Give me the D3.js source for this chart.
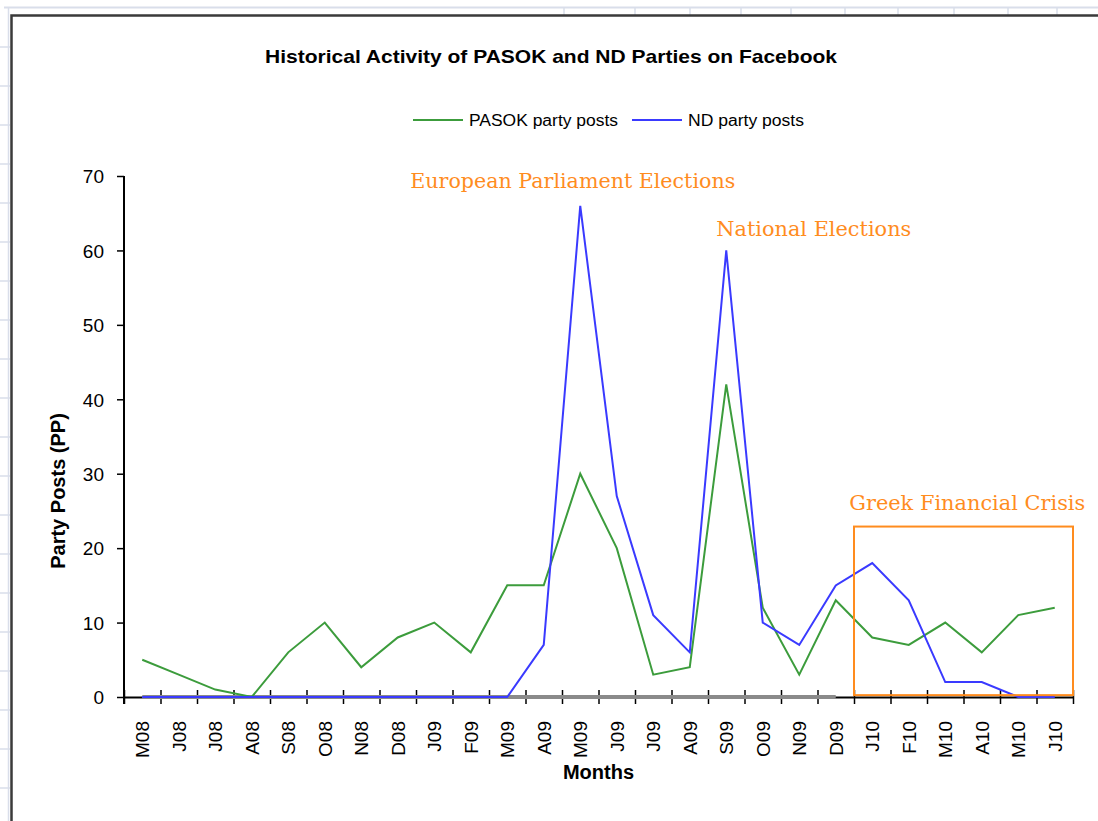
<!DOCTYPE html>
<html>
<head>
<meta charset="utf-8">
<script src="https://cdnjs.cloudflare.com/ajax/libs/d3/7.8.5/d3.min.js"></script>
<style>
  html, body { margin: 0; padding: 0; background: #fff; }
  svg { display: block; }
  .axis text { font-family: "Liberation Sans", Arial, sans-serif; fill: #000; }
  .axis path, .axis line { stroke: #000; }
</style>
</head>
<body>
<div id="chart"></div>
<script>

/**************************************************
 * Data                                           *
 **************************************************/

var months = ['M08', 'J08', 'J08', 'A08', 'S08', 'O08', 'N08', 'D08', 'J09', 'F09', 'M09', 'A09', 'M09',
  'J09', 'J09', 'A09', 'S09', 'O09', 'N09', 'D09', 'J10', 'F10', 'M10', 'A10', 'M10', 'J10'];

var pasokPosts = [5, 3, 1, 0, 6, 10, 4, 8, 10, 6, 15, 15, 30, 20, 3, 4, 42, 12, 3, 13, 8, 7, 10, 6, 11, 12];
var ndPosts = [0, 0, 0, 0, 0, 0, 0, 0, 0, 0, 0, 7, 66, 27, 11, 6, 60, 10, 7, 15, 18, 13, 2, 2, 0, 0];
// grey series lying on the baseline up to D09 (not in the legend)
var baseSeries = [0, 0, 0, 0, 0, 0, 0, 0, 0, 0, 0, 0, 0, 0, 0, 0, 0, 0, 0, 0, null, null, null, null, null, null];

var yTicks = [0, 10, 20, 30, 40, 50, 60, 70];

var seriesNames = ['PASOK party posts', 'ND party posts'];

// annotations: [text, month index, value at baseline, x shift, text width]
var notes = [
  ['European Parliament Elections', 12, 68.4, -170, 325],
  ['National Elections', 16, 61.9, -10, 195],
  ['Greek Financial Crisis', 20, 25.1, -23, 236]
];
// crisis box: from month 20 to the end, value range
var crisisStart = 20,
  crisisTop = 22.9,
  crisisBottom = 0.25;

/**************************************************
 * Global Variables                               *
 **************************************************/

var width = 1098,
  height = 821;

var plot = { left: 124, right: 1073, top: 176, bottom: 697 };

var colors = {
  pasok: '#3c9c3c',
  nd: '#3a3aff',
  base: '#8a8a8a',
  note: '#ff8c1e',
  grid: '#d9deea',
  frame: '#3a3a3a'
};

var svg = d3.select('#chart').append('svg').attr('width', width).attr('height', height);

var x = d3.scaleBand().domain(d3.range(months.length)).range([plot.left, plot.right]).padding(0);
var xEdge = d3.scaleLinear().domain([0, months.length]).range([plot.left, plot.right]);
var y = d3.scaleLinear().domain([0, 70]).range([plot.bottom, plot.top]);

function cx(i) {
  return x(i) + x.bandwidth() / 2;
}

/**************************************************
 * Spreadsheet background                         *
 **************************************************/

function drawSheet() {
  var g = svg.append('g').attr('id', 'sheet');
  var colLines = [564, 635, 690, 741, 791, 845, 898, 954, 1008, 1057];

  g.append('line').attr('x1', 4).attr('x2', width).attr('y1', 7.5).attr('y2', 7.5)
    .attr('stroke', colors.grid).attr('stroke-width', 2);
  g.append('line').attr('x1', 8.5).attr('x2', 8.5).attr('y1', 7).attr('y2', height)
    .attr('stroke', colors.grid).attr('stroke-width', 1.5);

  colLines.forEach(function(cx0) {
    g.append('line').attr('x1', cx0).attr('x2', cx0).attr('y1', 7).attr('y2', 15)
      .attr('stroke', colors.grid).attr('stroke-width', 1.5);
  });
  for (var ry = 47; ry < height; ry += 39) {
    g.append('line').attr('x1', 0).attr('x2', 10).attr('y1', ry).attr('y2', ry)
      .attr('stroke', colors.grid).attr('stroke-width', 1.5);
  }

  // chart frame
  g.append('path')
    .attr('d', 'M11.5,' + height + 'V15.5H' + width)
    .attr('fill', 'none').attr('stroke', colors.frame).attr('stroke-width', 2.5);
}

/**************************************************
 * Axes                                           *
 **************************************************/

function drawAxes() {
  var yAxis = d3.axisLeft(y).tickValues(yTicks).tickSize(7).tickPadding(13);
  var gy = svg.append('g').attr('class', 'axis').attr('transform', 'translate(' + plot.left + ',0)').call(yAxis);
  gy.select('.domain').attr('stroke-width', 2).attr('d', 'M0,' + plot.top + 'V' + (plot.bottom + 7));
  gy.selectAll('.tick line').attr('stroke-width', 1.5);
  gy.selectAll('text').style('font-size', '19px').attr('dy', '0.36em');

  // tick marks on the month boundaries
  var xTickAxis = d3.axisBottom(xEdge).tickValues(d3.range(months.length + 1))
    .tickSize(14).tickFormat('');
  var gt = svg.append('g').attr('class', 'axis').attr('transform', 'translate(0,' + (plot.bottom - 7) + ')').call(xTickAxis);
  gt.select('.domain').remove();
  gt.selectAll('.tick line').attr('stroke-width', 1.5);

  // month labels
  var xAxis = d3.axisBottom(x).tickSize(0).tickFormat(function(i) { return months[i]; });
  var gx = svg.append('g').attr('class', 'axis').attr('transform', 'translate(0,' + plot.bottom + ')').call(xAxis);
  gx.select('.domain').attr('stroke-width', 2);
  gx.selectAll('text')
    .style('font-size', '19px')
    .attr('transform', 'rotate(-90)')
    .attr('x', -24)
    .attr('y', 0)
    .attr('dy', '0.36em')
    .attr('text-anchor', 'end');

  svg.append('text')
    .attr('x', (plot.left + plot.right) / 2).attr('y', 779)
    .attr('text-anchor', 'middle')
    .style('font', 'bold 20px "Liberation Sans", Arial, sans-serif')
    .text('Months');

  svg.append('text')
    .attr('transform', 'translate(65,491) rotate(-90)')
    .attr('text-anchor', 'middle')
    .style('font', 'bold 20px "Liberation Sans", Arial, sans-serif')
    .text('Party Posts (PP)');
}

/**************************************************
 * Lines                                          *
 **************************************************/

function drawLine(values, color, w) {
  var line = d3.line()
    .defined(function(d) { return d !== null; })
    .x(function(d, i) { return cx(i); })
    .y(function(d) { return y(d); });
  return svg.append('path').datum(values)
    .attr('d', line)
    .attr('fill', 'none')
    .attr('stroke', color)
    .attr('stroke-width', w)
    .attr('stroke-linejoin', 'miter');
}

/**************************************************
 * Title, legend, notes                           *
 **************************************************/

function drawTexts() {
  svg.append('text')
    .attr('x', 551).attr('y', 63)
    .attr('text-anchor', 'middle')
    .attr('textLength', 572).attr('lengthAdjust', 'spacingAndGlyphs')
    .style('font', 'bold 19px "Liberation Sans", Arial, sans-serif')
    .text('Historical Activity of PASOK and ND Parties on Facebook');

  var legend = svg.append('g').attr('id', 'legend');
  var items = [
    { name: seriesNames[0], color: colors.pasok, x: 413, len: 149 },
    { name: seriesNames[1], color: colors.nd, x: 632, len: 116 }
  ];
  items.forEach(function(it) {
    legend.append('line')
      .attr('x1', it.x).attr('x2', it.x + 50).attr('y1', 120).attr('y2', 120)
      .attr('stroke', it.color).attr('stroke-width', 2);
    legend.append('text')
      .attr('x', it.x + 56).attr('y', 126)
      .attr('textLength', it.len).attr('lengthAdjust', 'spacingAndGlyphs')
      .style('font', '16px "Liberation Sans", Arial, sans-serif')
      .text(it.name);
  });

  notes.forEach(function(n) {
    svg.append('text')
      .attr('x', cx(n[1]) + n[3])
      .attr('y', y(n[2]))
      .attr('fill', colors.note)
      .attr('textLength', n[4]).attr('lengthAdjust', 'spacingAndGlyphs')
      .style('font', '20px "DejaVu Serif", serif')
      .text(n[0]);
  });

  svg.append('rect')
    .attr('x', xEdge(crisisStart))
    .attr('y', y(crisisTop))
    .attr('width', xEdge(months.length) - xEdge(crisisStart))
    .attr('height', y(crisisBottom) - y(crisisTop))
    .attr('fill', 'none')
    .attr('stroke', colors.note)
    .attr('stroke-width', 2);
}

drawSheet();
drawAxes();
drawLine(baseSeries, colors.base, 4);
drawLine(pasokPosts, colors.pasok, 2);
drawLine(ndPosts, colors.nd, 2);
drawTexts();

</script>
</body>
</html>
